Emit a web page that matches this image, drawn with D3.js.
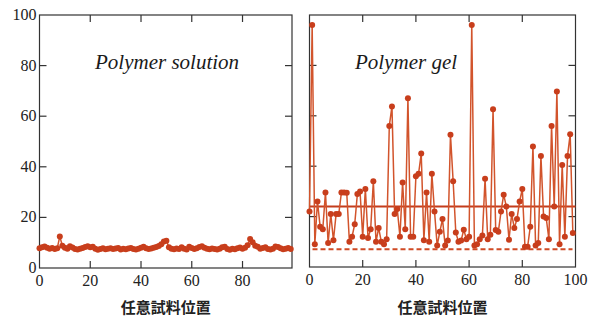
<!DOCTYPE html>
<html>
<head>
<meta charset="utf-8">
<script src="https://d3js.org/d3.v7.min.js"></script>
<style>
body { margin: 0; background: #fff; }
.frame { fill: none; stroke: #333; stroke-width: 1.2px; }
.tick-mark { stroke: #333; stroke-width: 1.2px; }
.tick-label { font-family: "Liberation Serif", "DejaVu Serif", serif; font-size: 16px; fill: #222; }
.title { font-family: "Liberation Serif", serif; font-style: italic; font-size: 21px; fill: #1a1a1a; }
.xlabel { font-family: "Noto Sans CJK JP", sans-serif; font-weight: bold; font-size: 15px; fill: #222; }
.line { fill: none; stroke: #d2542c; stroke-width: 1.5px; }
.dot { fill: #c83e1c; }
.mean { stroke: #c43c1c; stroke-width: 2px; }
.base { stroke: #d04a24; stroke-width: 2px; stroke-dasharray: 5,3; }
</style>
</head>
<body>
<svg id="chart" width="602" height="320"></svg>
<script>

// values (index 0..99)
var solution = [
  7.8, 8.2, 8.5, 8.0, 7.6, 7.9, 7.5, 7.8, 12.5, 8.8,
  8.0, 7.6, 8.6, 8.1, 7.5, 7.3, 7.6, 7.9, 8.3, 8.6,
  8.2, 8.4, 7.6, 7.2, 7.5, 7.8, 7.4, 7.6, 7.8, 7.5,
  7.7, 7.9, 7.3, 7.6, 7.4, 7.7, 7.9, 7.5, 7.3, 7.6,
  8.0, 8.4, 7.8, 7.5, 7.7, 8.0, 8.3, 8.7, 9.4, 10.5,
  10.8, 8.2, 7.6, 7.4, 7.7, 7.5, 8.2, 7.6, 7.3, 8.4,
  7.9, 7.5, 7.8, 8.3, 8.6, 8.0, 7.6, 7.4, 7.7, 7.5,
  7.3, 7.6, 8.2, 8.4, 7.5, 7.2, 7.6, 7.4, 7.8, 8.1,
  7.6, 8.0, 9.0, 11.5, 10.2, 8.8, 8.4, 7.6, 7.9, 8.2,
  7.5, 7.3, 7.6, 8.5, 8.3, 7.8, 7.4, 7.6, 7.9, 7.5
];

var gel = [
  22, 96, 9, 26, 16, 15, 29.6, 9.5, 21, 10.6,
  21, 21, 29.6, 29.6, 29.5, 10, 12, 17, 29, 30,
  12, 31, 11.5, 15, 34, 10, 15.5, 10, 9, 11,
  56, 63.7, 21, 23, 12, 33.5, 15, 67, 12, 12,
  36, 37, 45, 10.6, 29.6, 10, 37, 22, 8.5, 14,
  19, 8.5, 10.5, 52.5, 34, 13.7, 10, 10.5, 14.8, 11,
  12, 96, 8.5, 9, 11, 12.5, 35, 11, 12.8, 62.6,
  14.7, 14, 22, 28.7, 24, 10.8, 21, 15.5, 19, 26,
  31, 8, 8, 16, 47.8, 8.5, 9.5, 44, 20, 19.4,
  11, 56, 24, 69.6, 9, 40.5, 12, 44, 52.7, 13.5
];

var gelMean = 24;     // solid line
var solutionLevel = 7; // dashed line

var yTicks = [0, 20, 40, 60, 80, 100];
var xTicksLeft = [0, 20, 40, 60, 80];
var xTicksRight = [0, 20, 40, 60, 80, 100];

var svg = d3.select("#chart");

function panel(opt) {
  var x = d3.scaleLinear().domain(opt.xDomain).range([opt.left, opt.right]);
  var y = d3.scaleLinear().domain([0, 100]).range([opt.bottom, opt.top]);
  var g = svg.append("g");
  var tl = 7;

  g.append("rect").attr("class", "frame")
    .attr("x", opt.left).attr("y", opt.top)
    .attr("width", opt.right - opt.left).attr("height", opt.bottom - opt.top);

  // inward ticks on all four sides
  var inner = yTicks.filter(function(d){ return d > 0 && d < 100; });
  inner.forEach(function(d){
    g.append("line").attr("class", "tick-mark")
      .attr("x1", opt.left).attr("x2", opt.left + tl).attr("y1", y(d)).attr("y2", y(d));
    g.append("line").attr("class", "tick-mark")
      .attr("x1", opt.right).attr("x2", opt.right - tl).attr("y1", y(d)).attr("y2", y(d));
  });
  opt.xTicks.filter(function(d){ return d > 0 && d < 100; }).forEach(function(d){
    g.append("line").attr("class", "tick-mark")
      .attr("x1", x(d)).attr("x2", x(d)).attr("y1", opt.bottom).attr("y2", opt.bottom - tl);
    g.append("line").attr("class", "tick-mark")
      .attr("x1", x(d)).attr("x2", x(d)).attr("y1", opt.top).attr("y2", opt.top + tl);
  });

  g.selectAll(".xt").data(opt.xTicks).enter().append("text")
    .attr("class", "tick-label").attr("text-anchor", "middle")
    .attr("x", function(d){ return x(d); })
    .attr("y", opt.bottom + 18)
    .text(function(d){ return d; });

  if (opt.yLabels) {
    g.selectAll(".yt").data(yTicks).enter().append("text")
      .attr("class", "tick-label").attr("text-anchor", "end")
      .attr("x", opt.left - 3)
      .attr("y", function(d){ return y(d) + 5; })
      .text(function(d){ return d; });
  }

  if (opt.hlines) {
    g.append("line").attr("class", "mean")
      .attr("x1", opt.left).attr("x2", opt.right)
      .attr("y1", y(gelMean)).attr("y2", y(gelMean));
    g.append("line").attr("class", "base")
      .attr("x1", opt.left + 3).attr("x2", opt.right - 3)
      .attr("y1", y(solutionLevel)).attr("y2", y(solutionLevel));
  }

  var line = d3.line()
    .x(function(d, i){ return x(i); })
    .y(function(d){ return y(d); });

  g.append("path").datum(opt.data).attr("class", "line").attr("d", line);

  g.selectAll(".dot").data(opt.data).enter().append("circle")
    .attr("class", "dot")
    .attr("cx", function(d, i){ return x(i); })
    .attr("cy", function(d){ return y(d); })
    .attr("r", 3);

  g.append("text").attr("class", "title")
    .attr("x", opt.titleX).attr("y", 69)
    .text(opt.title);

  g.append("text").attr("class", "xlabel").attr("text-anchor", "middle")
    .attr("x", (opt.left + opt.right) / 2).attr("y", 313)
    .text("任意試料位置");
}

panel({
  left: 39.5, right: 292, top: 15, bottom: 268,
  xDomain: [0, 99.5], xTicks: xTicksLeft, yLabels: true,
  data: solution, title: "Polymer solution", titleX: 95, hlines: false
});

panel({
  left: 309.5, right: 575.5, top: 15, bottom: 267,
  xDomain: [0, 100], xTicks: xTicksRight, yLabels: false,
  data: gel, title: "Polymer gel", titleX: 355, hlines: true
});

</script>
</body>
</html>
